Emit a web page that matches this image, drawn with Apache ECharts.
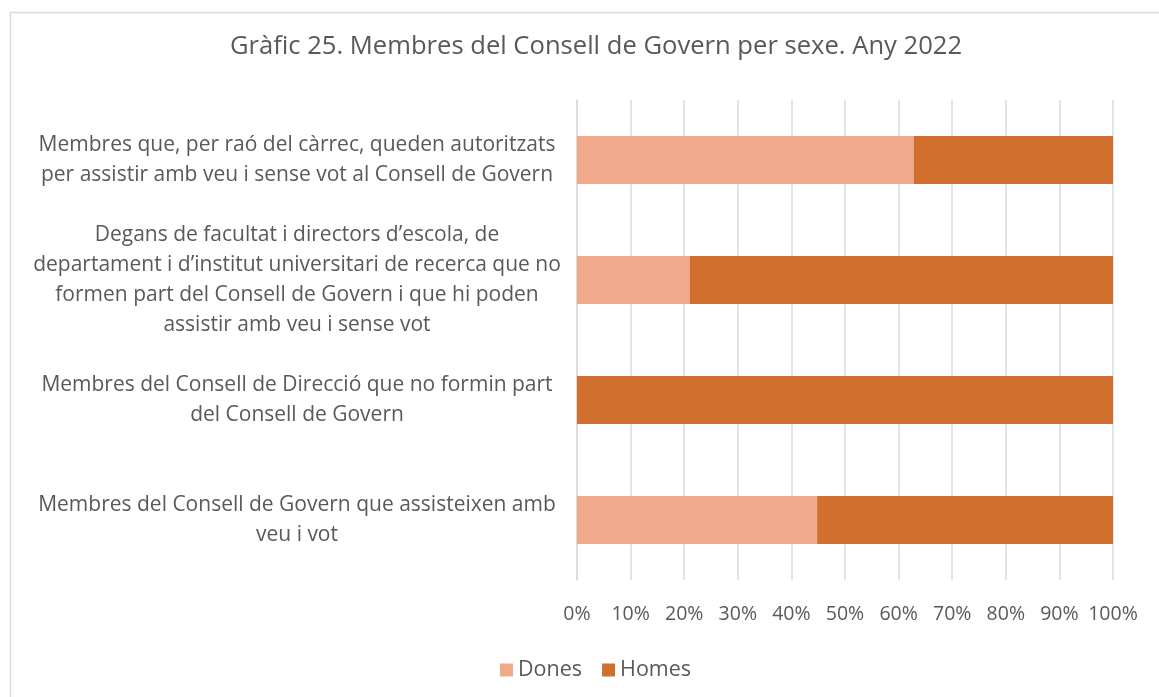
<!DOCTYPE html>
<html>
<head>
<meta charset="utf-8">
<script src="https://cdn.jsdelivr.net/npm/echarts@6/dist/echarts.min.js"></script>
<style>
html,body{margin:0;padding:0;background:#fff;}
#chart{width:1159px;height:697px;}
</style>
</head>
<body>
<div id="chart"></div>
<script>
const titleText = 'Gràfic 25. Membres del Consell de Govern per sexe. Any 2022';
// categories listed bottom to top (ECharts category axis order)
const categories = [
  'Membres del Consell de Govern que assisteixen amb\nveu i vot',
  'Membres del Consell de Direcció que no formin part\ndel Consell de Govern',
  'Degans de facultat i directors d’escola, de\ndepartament i d’institut universitari de recerca que no\nformen part del Consell de Govern i que hi poden\nassistir amb veu i sense vot',
  'Membres que, per raó del càrrec, queden autoritzats\nper assistir amb veu i sense vot al Consell de Govern'
];
const dones = [44.8, 0, 21.0, 62.8];
const homes = [55.2, 100, 79.0, 37.2];
const seriesNames = ['Dones', 'Homes'];
const colors = ['#F1A98B', '#D06F2E'];

const FONT = '"Open Sans", Lato, sans-serif';
const chart = echarts.init(document.getElementById('chart'), null, {renderer: 'canvas'});
chart.setOption({
  animation: false,
  backgroundColor: '#ffffff',
  textStyle: {fontFamily: FONT},
  graphic: [{
    type: 'rect', left: 8, top: 10, z: -10,
    shape: {width: 1300, height: 800},
    style: {fill: 'none', stroke: '#d9d9d9', lineWidth: 1.5}
  }],
  title: {
    text: titleText,
    left: 591, top: 29, textAlign: 'center',
    textStyle: {fontFamily: FONT, fontSize: 25.6, fontWeight: 'normal', color: '#595959'}
  },
  legend: {
    data: seriesNames,
    left: 495, top: 654,
    itemWidth: 13, itemHeight: 13, itemGap: 20,
    icon: 'rect',
    textStyle: {fontFamily: FONT, fontSize: 21.5, color: '#595959'}
  },
  grid: {left: 577, right: 46, top: 100, bottom: 117, containLabel: false},
  xAxis: {
    type: 'value', min: 0, max: 100, interval: 10,
    axisLabel: {formatter: '{value}%', fontFamily: FONT, fontSize: 19.5, color: '#595959', margin: 24},
    axisLine: {show: false}, axisTick: {show: false},
    splitLine: {lineStyle: {color: '#d9d9d9', width: 1.5}}
  },
  yAxis: {
    type: 'category', data: categories,
    axisLine: {show: true, lineStyle: {color: '#d9d9d9', width: 1.5}},
    axisTick: {show: false},
    axisLabel: {align: 'center', margin: 280, fontFamily: FONT, fontSize: 21, lineHeight: 30, color: '#595959'}
  },
  series: [
    {name: seriesNames[0], type: 'bar', stack: 'total', data: dones, barWidth: 48, itemStyle: {color: colors[0]}},
    {name: seriesNames[1], type: 'bar', stack: 'total', data: homes, barWidth: 48, itemStyle: {color: colors[1]}}
  ]
});
</script>
</body>
</html>
